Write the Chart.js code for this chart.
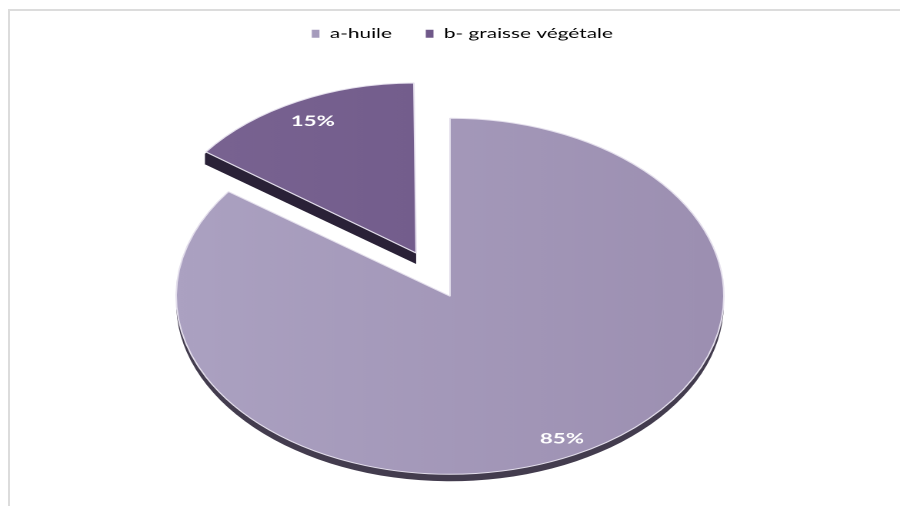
<!DOCTYPE html>
<html>
<head>
<meta charset="utf-8">
<script src="https://cdn.jsdelivr.net/npm/chart.js@4.4.0/dist/chart.umd.min.js"></script>
<style>
  html, body { margin: 0; padding: 0; background: #fff; overflow: hidden; }
  #wrap { position: relative; width: 900px; height: 506px; overflow: hidden; }
  /* the chart is laid out narrow and stretched sideways, so the pie reads as a wide oval */
  #chart { position: absolute; left: 0; top: 0; transform-origin: 0 0; transform: scaleX(1.5385); }
  #frame { position: absolute; left: 8px; top: 9px; right: 0; bottom: -5px;
           border-top: 2px solid #dcdcdc; border-left: 2px solid #dcdcdc; pointer-events: none; }
</style>
</head>
<body>
<div id="wrap">
  <canvas id="chart"></canvas>
  <div id="frame"></div>
</div>
<script>
const labels = ['a-huile', 'b- graisse végétale'];
const values = [85, 15];

// slice colours: left/right of the top face, the dark side, and the legend swatch
const topLight = ['#aba1c1', '#7a6492'];
const topDark = ['#9c8fb1', '#6d5787'];
const sideColors = ['#433c4e', '#2a2137'];
const legendColors = ['#a59bbc', '#6f5889'];

const depth = [7, 11];
const sizeScale = [1, 0.955];
const labelPos = [0.9, 0.87];

const total = values.reduce((a, b) => a + b, 0);

// draws the dark side under each slice and the percentage labels on top
const pieDepth = {
    id: 'pieDepth',
    afterLayout(chart) {
        // nudge the legend a little to the right of centre
        chart.legend.left += 8;
        chart.legend.right += 8;
    },
    beforeDatasetsDraw(chart) {
        const meta = chart.getDatasetMeta(0);
        const ctx = chart.ctx;
        const base = meta.controller.outerRadius;
        meta.data.forEach((arc, i) => {
            const off = (arc.options.offset || 0) / 4;
            const fix = 1 - Math.sin(Math.min(Math.PI, arc.circumference));
            const r = base * sizeScale[i];
            // the library grows a pulled-out slice; take that back off
            arc.outerRadius = r - off * fix;
            const mid = (arc.startAngle + arc.endAngle) / 2;
            const cx = arc.x + Math.cos(mid) * off;
            const cy = arc.y + Math.sin(mid) * off;
            // edges that face upwards never show their side: tuck them in
            // slightly so the dark fill can't bleed past the top face
            let a0 = arc.startAngle, a1 = arc.endAngle;
            if (Math.cos(a0) > -1e-6) a0 += 0.012;
            if (Math.cos(a1) < 1e-6) a1 -= 0.012;
            // one path made of the slice copied downwards, filled once
            ctx.save();
            ctx.fillStyle = sideColors[i];
            ctx.beginPath();
            for (let k = 1; k <= depth[i]; k++) {
                ctx.moveTo(cx, cy + k);
                ctx.arc(cx, cy + k, r, a0, a1);
                ctx.closePath();
            }
            ctx.fill();
            ctx.restore();
        });
    },
    afterDatasetsDraw(chart) {
        const meta = chart.getDatasetMeta(0);
        const ctx = chart.ctx;
        const base = meta.controller.outerRadius;
        ctx.save();
        ctx.font = 'bold 14.5px Lato';
        ctx.fillStyle = '#ffffff';
        ctx.textAlign = 'center';
        ctx.textBaseline = 'middle';
        meta.data.forEach((arc, i) => {
            const off = (arc.options.offset || 0) / 4;
            const mid = (arc.startAngle + arc.endAngle) / 2;
            const r = off + base * sizeScale[i] * labelPos[i];
            const pct = Math.round(values[i] / total * 100) + '%';
            ctx.fillText(pct, arc.x + Math.cos(mid) * r, arc.y + Math.sin(mid) * r);
        });
        ctx.restore();
    }
};

const canvas = document.getElementById('chart');
canvas.width = 585;
canvas.height = 542;

const myChart = new Chart(canvas, {
    type: 'pie',
    data: {
        labels: labels,
        datasets: [{
            data: values,
            backgroundColor: c => {
                const w = c.chart.width || 585;
                const g = c.chart.ctx.createLinearGradient(w * 0.2, 0, w * 0.8, 0);
                g.addColorStop(0, topLight[c.dataIndex]);
                g.addColorStop(1, topDark[c.dataIndex]);
                return g;
            },
            borderColor: '#e4dfec',
            borderWidth: 1,
            offset: [0, 194]
        }]
    },
    options: {
        responsive: false,
        devicePixelRatio: 2,
        animation: false,
        events: [],
        radius: 178,
        layout: { padding: { top: 5 } },
        plugins: {
            tooltip: { enabled: false },
            legend: {
                position: 'top',
                labels: {
                    font: { family: 'Lato', size: 13.5 },
                    color: '#595959',
                    boxWidth: 5,
                    boxHeight: 8,
                    padding: 22,
                    generateLabels: () => labels.map((t, i) => ({
                        text: t,
                        fillStyle: legendColors[i],
                        strokeStyle: legendColors[i],
                        lineWidth: 0,
                        hidden: false,
                        index: i
                    }))
                }
            }
        }
    },
    plugins: [pieDepth]
});
</script>
</body>
</html>
